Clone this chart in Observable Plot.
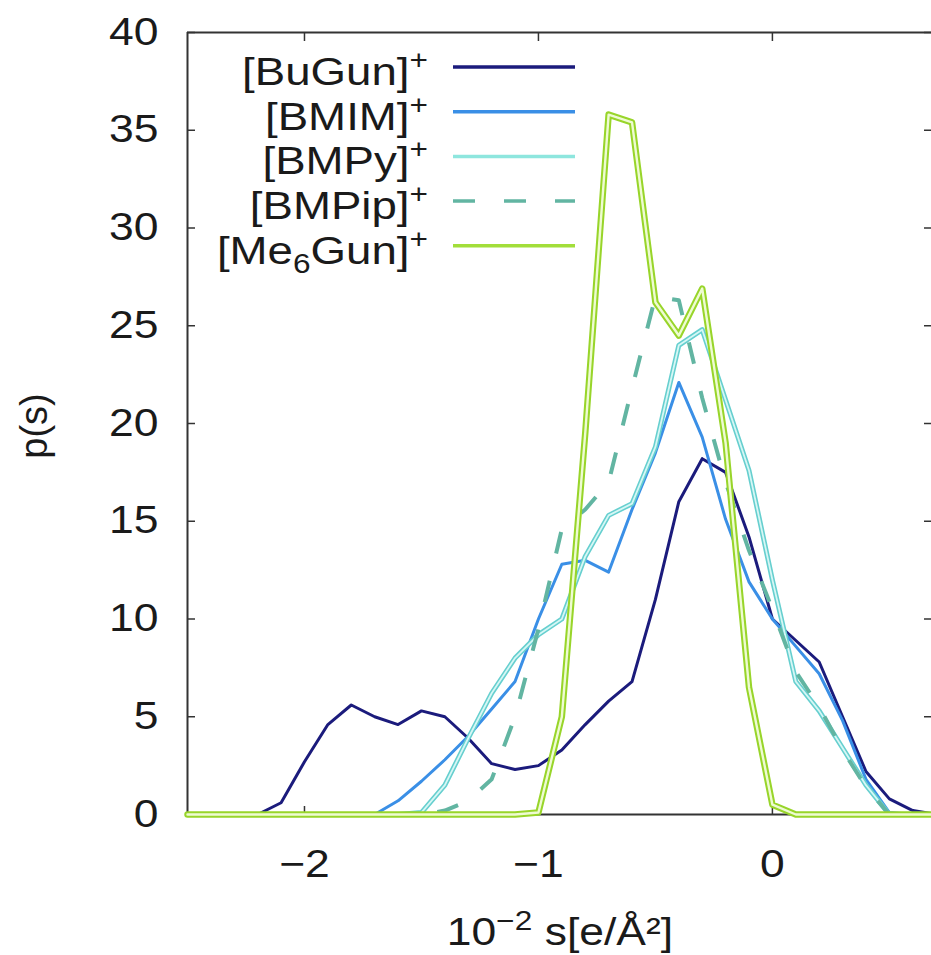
<!DOCTYPE html>
<html>
<head>
<meta charset="utf-8">
<script src="https://cdn.jsdelivr.net/npm/d3@7"></script>
<script src="https://cdn.jsdelivr.net/npm/@observablehq/plot@0.6"></script>
<style>
html, body { margin: 0; padding: 0; background: #fff; }
#chart { position: relative; width: 931px; height: 955px; overflow: hidden; }
</style>
</head>
<body>
<div id="chart"></div>
<script>
// ---- data ----
const xValues = [-2.5,-2.4,-2.3,-2.2,-2.1,-2.0,-1.9,-1.8,-1.7,-1.6,-1.5,-1.4,-1.3,-1.2,-1.1,-1.0,-0.9,-0.8,-0.7,-0.6,-0.5,-0.4,-0.3,-0.2,-0.1,0.0,0.1,0.2,0.3,0.4,0.5,0.6,0.7];

const seriesNames = ["BuGun", "BMIM", "BMPy", "BMPip", "Me6Gun"];

const buGun  = [0,0,0,0,0.6,2.7,4.6,5.6,5.0,4.6,5.3,5.0,3.9,2.6,2.3,2.5,3.3,4.6,5.8,6.8,11.0,16.0,18.2,17.5,14.2,10.0,8.9,7.8,5.0,2.2,0.8,0.2,0];
const bmim   = [0,0,0,0,0,0,0,0,0,0.7,1.7,2.8,4.0,5.4,6.8,10.0,12.8,13.0,12.4,15.6,18.5,22.1,19.3,15.1,11.9,10.0,8.6,7.2,4.8,1.8,0.1,0,0];
const bmpy   = [0,0,0,0,0,0,0,0,0,0,0.1,1.5,3.9,6.2,8.0,9.2,10.0,13.2,15.3,15.9,18.8,24.0,24.8,21.2,17.6,12.0,6.8,5.3,3.4,1.5,0,0,0];
const bmpip  = [0,0,0,0,0,0,0,0,0,0,0,0.2,0.7,1.8,5.0,9.5,14.6,15.6,17.0,21.8,26.5,26.3,21.3,17.0,13.5,10.5,7.3,5.5,3.3,1.4,0,0,0];
const me6Gun = [0,0,0,0,0,0,0,0,0,0,0,0,0,0,0,0.1,5.0,19.5,35.8,35.4,26.2,24.5,26.9,19.0,6.5,0.5,0,0,0,0,0,0,0];

const xTicks = [-2, -1, 0];
const yTicks = [0, 5, 10, 15, 20, 25, 30, 35, 40];

// ---- build a long table from the arrays ----
const valuesBySeries = { BuGun: buGun, BMIM: bmim, BMPy: bmpy, BMPip: bmpip, Me6Gun: me6Gun };
const rows = [];
for (const name of seriesNames) {
  valuesBySeries[name].forEach((v, i) => rows.push({ series: name, x: xValues[i], y: v }));
}
const only = (name) => rows.filter(d => d.series === name);

const FONT = "'Liberation Sans', Arial, Helvetica, sans-serif";
const INK = "#1a1a1a";
const C = {
  BuGun: "#1b1b7c",
  BMIM: "#3a8fe6",
  BMPyEdge: "#66cfcf",
  BMPyCore: "#d6f7f5",
  BMPyKey: "#8ee6de",
  BMPip: "#62b5a2",
  MeEdge: "#98d52a",
  MeCore: "#eefbd2",
  MeKey: "#a2de3a"
};

const plot = Plot.plot({
  width: 931,
  height: 955,
  marginLeft: 187,
  marginRight: 0,
  marginTop: 32,
  marginBottom: 141,
  x: { domain: [-2.5, 0.68], label: null },
  y: { domain: [0, 40], label: null },
  style: { fontFamily: FONT, fontSize: "38px", color: INK, background: "white" },
  marks: [
    // frame (left, top, bottom)
    Plot.ruleX([-2.5], { stroke: "#333", strokeWidth: 2 }),
    Plot.ruleY([40], { stroke: "#333", strokeWidth: 2 }),
    Plot.ruleY([0], { stroke: "#333", strokeWidth: 2 }),
    // inward tick marks on all four sides
    Plot.axisY(yTicks, { anchor: "left", tickSize: 8, dx: 8, fill: "none", stroke: "#333", strokeWidth: 1.5, label: null }),
    Plot.axisY(yTicks, { anchor: "right", tickSize: 8, dx: -8, fill: "none", stroke: "#333", strokeWidth: 1.5, label: null }),
    Plot.axisX(xTicks, { anchor: "bottom", tickSize: 8, dy: -8, fill: "none", stroke: "#333", strokeWidth: 1.5, label: null }),
    Plot.axisX(xTicks, { anchor: "top", tickSize: 8, dy: 8, fill: "none", stroke: "#333", strokeWidth: 1.5, label: null }),
    // tick labels
    Plot.axisY(yTicks, { anchor: "left", tickSize: 0, tickPadding: 29, fontSize: 38, fill: INK, label: null }),
    Plot.axisX(xTicks, { anchor: "bottom", tickSize: 0, tickPadding: 36, fontSize: 38, fill: INK, label: null,
      tickFormat: d => d < 0 ? "\u2212" + Math.abs(d) : String(d) }),
    // series
    Plot.line(only("BuGun"), { x: "x", y: "y", stroke: C.BuGun, strokeWidth: 3 }),
    Plot.line(only("BMIM"), { x: "x", y: "y", stroke: C.BMIM, strokeWidth: 3 }),
    Plot.line(only("BMPy"), { x: "x", y: "y", stroke: C.BMPyEdge, strokeWidth: 5 }),
    Plot.line(only("BMPy"), { x: "x", y: "y", stroke: C.BMPyCore, strokeWidth: 1.8 }),
    Plot.line(only("BMPip"), { x: "x", y: "y", stroke: C.BMPip, strokeWidth: 4, strokeDasharray: "22,28", strokeLinecap: "butt" }),
    Plot.line(only("Me6Gun"), { x: "x", y: "y", stroke: C.MeEdge, strokeWidth: 6.5 }),
    Plot.line(only("Me6Gun"), { x: "x", y: "y", stroke: C.MeCore, strokeWidth: 2.4 })
  ]
});

document.getElementById("chart").appendChild(plot);

// ---- axis titles and key (text added to the same SVG) ----
const svg = d3.select(plot);

const xl = svg.append("text")
  .attr("x", 560).attr("y", 945)
  .attr("text-anchor", "middle")
  .attr("font-family", FONT).attr("font-size", 38).attr("fill", INK);
xl.append("tspan").text("10");
xl.append("tspan").attr("dy", -15).attr("font-size", 27).text("\u22122");
xl.append("tspan").attr("dy", 15).text(" s[e/\u00C5\u00B2]");

svg.append("text")
  .attr("class", "upright")
  .attr("transform", "translate(47,426) rotate(-90)")
  .attr("text-anchor", "middle")
  .attr("font-family", FONT).attr("font-size", 38).attr("fill", INK)
  .text("p(s)");

const keyColors = [C.BuGun, C.BMIM, C.BMPyKey, C.BMPip, C.MeKey];
const keyDash = [null, null, null, "22,29", null];
const keyY0 = 67, keyStep = 44.7;
const key = svg.append("g").attr("font-family", FONT).attr("fill", INK);
seriesNames.forEach((name, i) => {
  const cy = keyY0 + i * keyStep;
  const t = key.append("text")
    .attr("x", 428).attr("y", cy + 18)
    .attr("text-anchor", "end")
    .attr("font-size", 39);
  if (name === "Me6Gun") {
    t.append("tspan").text("[Me");
    t.append("tspan").attr("dy", 9).attr("font-size", 27).text("6");
    t.append("tspan").attr("dy", -9).text("Gun]");
  } else {
    t.append("tspan").text("[" + name + "]");
  }
  t.append("tspan").attr("dy", -16).attr("font-size", 27).text("+");
  key.append("line")
    .attr("x1", 453).attr("x2", 575)
    .attr("y1", cy).attr("y2", cy)
    .attr("stroke", keyColors[i])
    .attr("stroke-width", 3.5)
    .attr("stroke-dasharray", keyDash[i]);
});

// The reference figure's lettering is horizontally wide; widen horizontal text glyphs.
const STRETCH = 1.17;
svg.selectAll("text").each(function () {
  if (this.classList.contains("upright")) return;
  const len = this.getComputedTextLength();
  if (len > 0) {
    this.setAttribute("textLength", (len * STRETCH).toFixed(1));
    this.setAttribute("lengthAdjust", "spacingAndGlyphs");
  }
});
</script>
</body>
</html>
